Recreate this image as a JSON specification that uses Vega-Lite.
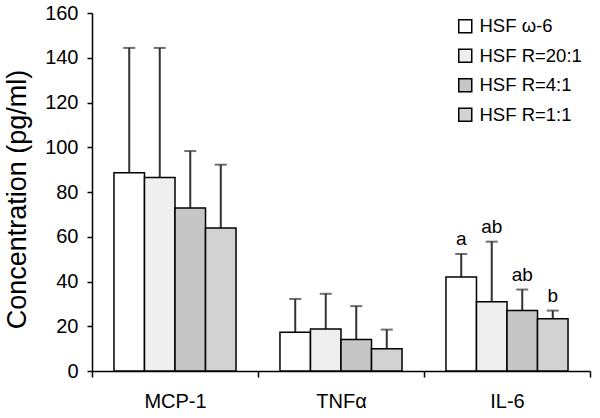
{
  "$schema": "https://vega.github.io/schema/vega-lite/v6.json",
  "width": 498,
  "height": 358,
  "autosize": {"type": "none"},
  "padding": {"left": 92, "top": 13, "right": 10, "bottom": 47},
  "background": "white",
  "config": {
    "font": "Liberation Sans",
    "view": {"stroke": null},
    "axis": {"domainColor": "black", "tickColor": "black", "labelColor": "black", "titleColor": "black", "grid": false, "domainWidth": 1.5, "tickWidth": 1.5}
  },
  "data": {
    "values": [
      {"cytokine": "MCP-1", "group": "HSF ω-6", "mean": 88.6, "err": 144.4, "sig": ""},
      {"cytokine": "MCP-1", "group": "HSF R=20:1", "mean": 86.5, "err": 144.4, "sig": ""},
      {"cytokine": "MCP-1", "group": "HSF R=4:1", "mean": 72.9, "err": 98.3, "sig": ""},
      {"cytokine": "MCP-1", "group": "HSF R=1:1", "mean": 63.9, "err": 92.2, "sig": ""},
      {"cytokine": "TNFα", "group": "HSF ω-6", "mean": 17.3, "err": 32.2, "sig": ""},
      {"cytokine": "TNFα", "group": "HSF R=20:1", "mean": 18.8, "err": 34.5, "sig": ""},
      {"cytokine": "TNFα", "group": "HSF R=4:1", "mean": 14.1, "err": 29.0, "sig": ""},
      {"cytokine": "TNFα", "group": "HSF R=1:1", "mean": 10.0, "err": 18.5, "sig": ""},
      {"cytokine": "IL-6", "group": "HSF ω-6", "mean": 42.0, "err": 52.3, "sig": "a"},
      {"cytokine": "IL-6", "group": "HSF R=20:1", "mean": 31.0, "err": 57.8, "sig": "ab"},
      {"cytokine": "IL-6", "group": "HSF R=4:1", "mean": 27.0, "err": 36.4, "sig": "ab"},
      {"cytokine": "IL-6", "group": "HSF R=1:1", "mean": 23.4, "err": 27.0, "sig": "b"}
    ]
  },
  "encoding": {
    "x": {
      "field": "cytokine", "type": "nominal", "sort": ["MCP-1", "TNFα", "IL-6"],
      "scale": {"paddingInner": 0, "paddingOuter": 0},
      "axis": {"title": null, "labelAngle": 0, "labelFontSize": 20, "labelPadding": 14, "tickBand": "extent", "tickSize": 6}
    },
    "xOffset": {
      "field": "group", "type": "nominal",
      "sort": ["HSF ω-6", "HSF R=20:1", "HSF R=4:1", "HSF R=1:1"],
      "scale": {"paddingInner": 0, "paddingOuter": 0.72}
    }
  },
  "layer": [
    {
      "mark": {"type": "rule", "color": "#333333", "strokeWidth": 2},
      "encoding": {
        "y": {"field": "mean", "type": "quantitative"},
        "y2": {"field": "err"}
      }
    },
    {
      "mark": {"type": "tick", "color": "#333333", "thickness": 2, "size": 12, "orient": "horizontal"},
      "encoding": {
        "y": {"field": "err", "type": "quantitative"}
      }
    },
    {
      "mark": {"type": "bar", "stroke": "black", "strokeWidth": 1.5},
      "encoding": {
        "y": {
          "field": "mean", "type": "quantitative",
          "scale": {"domain": [0, 160]},
          "axis": {"title": "Concentration (pg/ml)", "titleFontSize": 27, "titleFontWeight": "normal", "titlePadding": 13, "titleY": 186, "labelFontSize": 20, "values": [0, 20, 40, 60, 80, 100, 120, 140, 160], "tickSize": 5, "labelPadding": 9}
        },
        "fill": {
          "field": "group", "type": "nominal",
          "sort": ["HSF ω-6", "HSF R=20:1", "HSF R=4:1", "HSF R=1:1"],
          "scale": {"domain": ["HSF ω-6", "HSF R=20:1", "HSF R=4:1", "HSF R=1:1"], "range": ["#ffffff", "#efefef", "#c6c6c6", "#d2d2d2"]},
          "legend": {
            "title": null, "orient": "none", "legendX": 364, "legendY": 4,
            "symbolType": "square", "symbolSize": 169, "symbolStrokeColor": "black", "symbolStrokeWidth": 1.5,
            "labelFontSize": 18.5, "labelColor": "black", "rowPadding": 9.5, "labelOffset": 5, "padding": 0
          }
        }
      }
    },
    {
      "mark": {"type": "text", "fontSize": 19, "dy": -9, "color": "black", "baseline": "alphabetic"},
      "encoding": {
        "y": {"field": "err", "type": "quantitative"},
        "text": {"field": "sig"}
      }
    }
  ]
}
